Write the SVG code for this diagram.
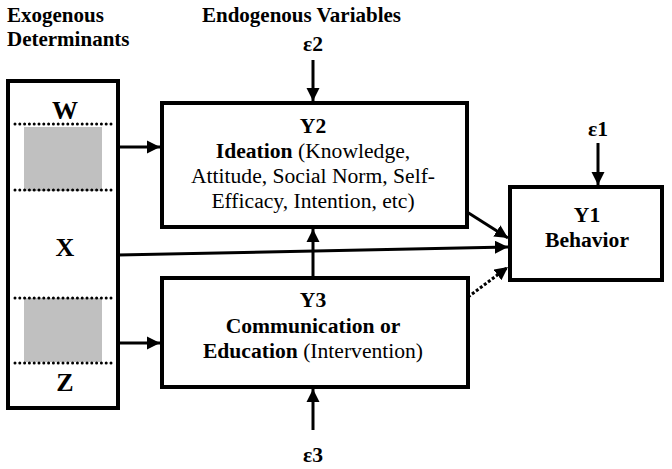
<svg xmlns="http://www.w3.org/2000/svg" width="672" height="469" viewBox="0 0 672 469" font-family="'Liberation Serif', 'Times New Roman', Times, serif">
<style>
text{fill:#000}
.b{font-weight:bold}
.h{font-size:21px;font-weight:bold}
.t{font-size:21.6px;text-anchor:middle}
.big{font-size:26px;font-weight:bold;text-anchor:middle}
.box{fill:#fff;stroke:#000;stroke-width:4}
.dot{stroke:#000;stroke-width:3;stroke-linecap:round;stroke-dasharray:0 4.8}
.c{stroke:#000;stroke-width:3;fill:none}
</style>
<defs>
<marker id="ah" viewBox="0 0 10 10" refX="10" refY="5" markerWidth="4.4" markerHeight="4.4" orient="auto" markerUnits="strokeWidth">
<path d="M0,0L10,5L0,10Z" fill="#000"/>
</marker>
</defs>
<text class="h" x="7" y="22">Exogenous</text>
<text class="h" x="7" y="46">Determinants</text>
<text class="h" x="202" y="22">Endogenous Variables</text>
<g id="exogenous">
<rect class="box" x="8" y="81" width="110" height="327" stroke-width="3"/>
<rect x="24" y="127" width="78" height="64" fill="#c0c0c0"/>
<rect x="24" y="298" width="78" height="64" fill="#c0c0c0"/>
<line class="dot" x1="15" y1="124" x2="113" y2="124"/>
<line class="dot" x1="15" y1="190" x2="113" y2="190"/>
<line class="dot" x1="15" y1="298" x2="113" y2="298"/>
<line class="dot" x1="15" y1="363" x2="113" y2="363"/>
<text class="big" x="65" y="119">W</text>
<text class="big" x="65" y="256">X</text>
<text class="big" x="65" y="391">Z</text>
</g>
<g id="connectors">
<line class="c" x1="118" y1="147" x2="160" y2="147" marker-end="url(#ah)"/>
<line class="c" x1="118" y1="343" x2="160" y2="343" marker-end="url(#ah)"/>
<line class="c" x1="118" y1="255" x2="508" y2="247" marker-end="url(#ah)"/>
<line class="c" x1="313" y1="60" x2="313" y2="101" marker-end="url(#ah)"/>
<line class="c" x1="313" y1="278" x2="313" y2="229" marker-end="url(#ah)"/>
<line class="c" x1="313" y1="430" x2="313" y2="389" marker-end="url(#ah)"/>
<line class="c" x1="598" y1="143" x2="598" y2="185" marker-end="url(#ah)"/>
<line class="c" x1="467" y1="212" x2="508" y2="238" marker-end="url(#ah)"/>
<line class="c" x1="468" y1="297" x2="508" y2="267" stroke-dasharray="3 2" marker-end="url(#ah)"/>
</g>
<g id="y2">
<rect class="box" x="162" y="103" width="305" height="124"/>
<text class="t b" x="313" y="133">Y2</text>
<text class="t" x="313" y="158"><tspan class="b">Ideation</tspan> (Knowledge,</text>
<text class="t" x="313" y="183">Attitude, Social Norm, Self-</text>
<text class="t" x="313" y="208">Efficacy, Intention, etc)</text>
</g>
<g id="y3">
<rect class="box" x="162" y="278" width="306" height="109"/>
<text class="t b" x="313" y="307">Y3</text>
<text class="t b" x="313" y="333">Communication or</text>
<text class="t" x="313" y="358"><tspan class="b">Education</tspan> (Intervention)</text>
</g>
<g id="y1">
<rect class="box" x="510" y="187" width="152" height="93"/>
<text class="t b" x="587" y="222">Y1</text>
<text class="t b" x="587" y="247">Behavior</text>
</g>
<g id="e2"><text class="t b" x="313" y="51">ε2</text></g>
<g id="e1"><text class="t b" x="598" y="136">ε1</text></g>
<g id="e3"><text class="t b" x="313" y="462">ε3</text></g>
</svg>
